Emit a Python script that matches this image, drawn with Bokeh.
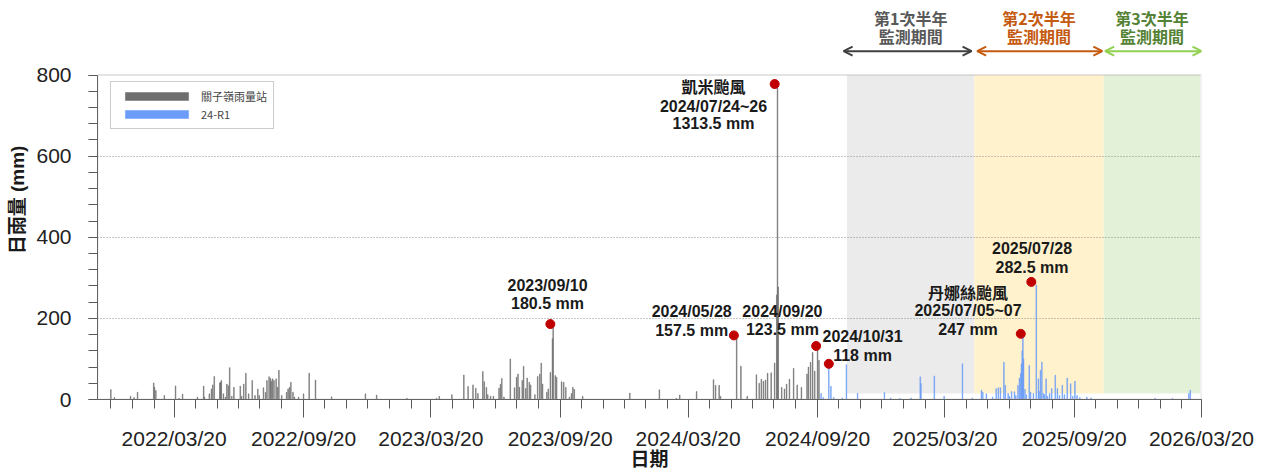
import datetime as dt
from bokeh.plotting import figure
from bokeh.models import (Range1d, FixedTicker, DatetimeTickFormatter, SingleIntervalTicker,
                          BoxAnnotation, Label, Arrow, OpenHead, Legend, LegendItem, ColumnDataSource)
from bokeh.embed import file_html
from bokeh.resources import INLINE

# ---------------- data ----------------
station_name = "關子嶺雨量站"
station_dates = [
    "2021-12-20", "2021-12-25", "2022-01-17", "2022-01-22", "2022-01-27", "2022-02-19", "2022-02-20", "2022-02-22",
    "2022-03-06", "2022-03-22", "2022-03-27", "2022-04-01", "2022-04-22", "2022-05-01", "2022-05-02", "2022-05-09",
    "2022-05-12", "2022-05-14", "2022-05-16", "2022-05-24", "2022-05-25", "2022-05-26", "2022-05-29", "2022-06-01",
    "2022-06-03", "2022-06-05", "2022-06-07", "2022-06-10", "2022-06-13", "2022-06-22", "2022-06-24", "2022-06-27",
    "2022-06-30", "2022-07-04", "2022-07-09", "2022-07-13", "2022-07-17", "2022-07-19", "2022-07-25", "2022-07-28",
    "2022-07-30", "2022-08-02", "2022-08-04", "2022-08-05", "2022-08-07", "2022-08-09", "2022-08-12", "2022-08-14",
    "2022-08-16", "2022-08-20", "2022-08-27", "2022-08-29", "2022-08-31", "2022-09-02", "2022-09-05", "2022-09-07",
    "2022-09-13", "2022-09-20", "2022-09-28", "2022-10-07", "2022-10-30", "2022-12-17", "2023-01-02", "2023-02-14",
    "2023-03-28", "2023-04-01", "2023-04-19", "2023-05-06", "2023-05-12", "2023-05-19", "2023-05-23", "2023-05-26",
    "2023-06-02", "2023-06-04", "2023-06-07", "2023-06-09", "2023-06-13", "2023-06-17", "2023-06-25", "2023-06-27",
    "2023-06-29", "2023-07-02", "2023-07-11", "2023-07-17", "2023-07-20", "2023-07-22", "2023-07-24", "2023-07-28",
    "2023-07-30", "2023-08-02", "2023-08-04", "2023-08-07", "2023-08-09", "2023-08-15", "2023-08-19", "2023-08-22",
    "2023-08-24", "2023-08-26", "2023-09-01", "2023-09-03", "2023-09-06", "2023-09-09", "2023-09-10", "2023-09-13",
    "2023-09-15", "2023-09-22", "2023-09-25", "2023-09-28", "2023-10-03", "2023-10-06", "2023-10-08", "2023-10-10",
    "2023-10-22", "2023-12-28", "2024-02-08", "2024-03-03", "2024-03-08", "2024-04-01", "2024-04-25", "2024-04-28",
    "2024-05-03", "2024-05-05", "2024-05-28", "2024-06-03", "2024-06-12", "2024-06-25", "2024-06-29", "2024-07-02",
    "2024-07-05", "2024-07-08", "2024-07-11", "2024-07-16", "2024-07-21", "2024-07-24", "2024-07-25", "2024-07-26",
    "2024-07-31", "2024-08-04", "2024-08-07", "2024-08-11", "2024-08-17", "2024-08-22", "2024-08-28", "2024-09-05",
    "2024-09-07", "2024-09-10", "2024-09-13", "2024-09-16", "2024-09-20", "2024-09-22",
]
station_mm = [
    24.5, 5, 8, 5, 18, 41, 30, 22,
    10, 33.5, 3, 13, 6, 33, 6, 14,
    26, 36, 57, 41, 42.5, 47, 14, 6,
    38, 34, 78.5, 8, 30, 33, 8, 38,
    65, 14, 47, 10, 26, 10, 29, 18,
    47, 56, 52, 45, 51, 47, 51, 30,
    72, 10, 18, 26, 30, 42.5, 18, 6,
    6, 14, 65, 48, 6.5, 14, 11, 3,
    3, 8, 12, 60.5, 32, 36, 28, 15,
    69, 44, 30, 12, 8, 8, 28, 37.5,
    52, 6, 100, 29, 55, 63, 30, 47,
    82, 27, 53, 42.5, 36, 12, 57, 63,
    90, 38, 18, 26, 67, 150, 180.5, 59,
    55, 44, 42.5, 30, 6, 15, 30, 25,
    8, 16, 24, 3, 11, 20, 49, 35,
    35, 8, 157.5, 82, 8, 61, 40, 50,
    45, 48, 65, 66, 90, 258, 778, 277.5,
    30, 26, 38, 50, 77, 36, 30, 63,
    80, 92, 116, 70, 123.5, 97,
]

r1_name = "24-R1"
r1_dates = [
    "2024-09-25", "2024-09-28", "2024-10-06", "2024-10-09", "2024-10-13", "2024-10-25", "2024-10-31", "2024-11-16",
    "2024-12-24", "2025-01-02", "2025-01-15", "2025-01-31", "2025-02-13", "2025-02-14", "2025-03-05", "2025-03-19",
    "2025-04-14", "2025-04-28", "2025-05-11", "2025-05-13", "2025-05-18", "2025-05-27", "2025-06-01", "2025-06-04",
    "2025-06-07", "2025-06-12", "2025-06-14", "2025-06-18", "2025-06-20", "2025-06-23", "2025-06-27", "2025-06-29",
    "2025-07-02", "2025-07-04", "2025-07-06", "2025-07-07", "2025-07-08", "2025-07-09", "2025-07-10", "2025-07-12",
    "2025-07-14", "2025-07-18", "2025-07-20", "2025-07-24", "2025-07-28", "2025-07-31", "2025-08-01", "2025-08-03",
    "2025-08-05", "2025-08-07", "2025-08-09", "2025-08-11", "2025-08-13", "2025-08-16", "2025-08-19", "2025-08-24",
    "2025-08-27", "2025-08-30", "2025-09-03", "2025-09-06", "2025-09-10", "2025-09-15", "2025-09-18", "2025-09-21",
    "2025-09-24", "2025-09-28", "2025-10-08", "2025-10-14", "2026-01-13", "2026-02-07", "2026-03-02", "2026-03-04",
]
r1_mm = [
    15, 5, 80, 33, 5, 4, 86, 15,
    17, 4, 3, 4, 56, 39, 58, 8,
    88, 4, 23, 18, 14, 6, 27, 29,
    29, 92, 35, 15, 8, 20, 19, 10,
    35, 53, 64, 88, 120, 155, 100, 25,
    12, 84, 18, 15, 282.5, 51, 20, 72,
    92, 15, 12, 51, 8, 15, 27, 60,
    27, 10, 35, 12, 53, 39, 8, 45,
    10, 5, 6, 4, 3, 3, 15, 23,
]

# highlighted events (red markers)
event_dates = ["2023-09-06", "2024-05-24", "2024-07-21", "2024-09-18", "2024-10-06", "2025-07-06", "2025-07-21"]
event_mm = [186, 158, 778, 132, 88, 162, 290]

# monitoring periods
period_names = [["第1次半年", "監測期間"], ["第2次半年", "監測期間"], ["第3次半年", "監測期間"]]
period_start = ["2024-11-01", "2025-05-01", "2025-11-01"]
period_end = ["2025-05-01", "2025-11-01", "2026-03-18"]

tick_labels = ["2022/03/20", "2022/09/20", "2023/03/20", "2023/09/20", "2024/03/20",
               "2024/09/20", "2025/03/20", "2025/09/20", "2026/03/20"]
grid_levels = [200, 400, 600]

# ---------------- helpers ----------------
EPOCH = dt.datetime(1970, 1, 1)


def ms(s):
    d = dt.datetime.strptime(s.replace("/", "-"), "%Y-%m-%d")
    return (d - EPOCH).total_seconds() * 1000.0


DAY = 86400000.0
X_START = "2021-12-01"
X_END = "2026-03-20"
Y_MAX = 800
Y_TOP = 984  # headroom above the 800 frame line for the period headers

p = figure(width=1263, height=472, output_backend="svg", toolbar_location=None,
           x_axis_type="datetime",
           x_range=Range1d(ms(X_START), ms(X_END)), y_range=Range1d(0, Y_TOP),
           min_border_left=97, min_border_right=62, min_border_top=0, min_border_bottom=60)
p.background_fill_color = "white"
p.border_fill_color = "white"
p.outline_line_color = None

# monitoring bands
band_colors = ["#EBEBEB", "#FFF2CC", "#E4F1D9"]
for s, e, c in zip(period_start, period_end, band_colors):
    p.add_layout(BoxAnnotation(left=ms(s), right=ms(e), bottom=15, top=Y_MAX, fill_color=c,
                               fill_alpha=1.0, line_color=None, level="underlay"))

p.ygrid.level = "glyph"

# bars
src_station = ColumnDataSource(dict(x=[ms(d) for d in station_dates], top=station_mm))
src_r1 = ColumnDataSource(dict(x=[ms(d) for d in r1_dates], top=r1_mm))
r_station = p.vbar(x="x", top="top", bottom=0, width=DAY, source=src_station,
                   fill_color="#6E6E6E", line_color="#6E6E6E", line_width=0.6, line_alpha=0.8)
r_r1 = p.vbar(x="x", top="top", bottom=0, width=DAY, source=src_r1,
              fill_color="#6A9CF8", line_color="#6A9CF8", line_width=0.6, line_alpha=0.8)

# plot-area frame (0..800)
p.add_layout(BoxAnnotation(left=ms(X_START), right=ms(X_END), bottom=0, top=Y_MAX,
                           fill_alpha=0, line_color="#A6A6A6", line_width=2, level="overlay"))

# event markers
p.scatter(x=[ms(d) for d in event_dates], y=event_mm, size=9, marker="circle",
          fill_color="#C00000", line_color="#C00000")

# axes
major = [ms(t) for t in tick_labels]
minor = []
y0, m0 = 2021, 12
while True:
    v = ms(f"{y0:04d}-{m0:02d}-20")
    if v > ms(X_END):
        break
    minor.append(v)
    m0 += 1
    if m0 > 12:
        m0, y0 = 1, y0 + 1

xa = p.xaxis[0]
xa.ticker = FixedTicker(ticks=major, minor_ticks=minor)
fmt = "%Y/%m/%d"
xa.formatter = DatetimeTickFormatter(days=fmt, months=fmt, years=fmt, hours=fmt, hourmin=fmt,
                                     minutes=fmt, minsec=fmt, seconds=fmt, milliseconds=fmt,
                                     microseconds=fmt, context=None)
xa.axis_label = "日期"
xa.axis_label_text_font = "Liberation Sans, Noto Sans CJK TC"
xa.axis_label_text_font_style = "bold"
xa.axis_label_text_font_size = "19px"
xa.axis_label_text_color = "#1A1A1A"
xa.axis_label_standoff = -4
xa.major_label_text_font = "Liberation Sans"
xa.major_label_text_font_size = "21px"
xa.major_label_text_color = "#222222"
xa.major_label_standoff = 9
xa.major_tick_out = 18
xa.major_tick_in = 0
xa.minor_tick_out = 9
xa.minor_tick_in = 0
xa.axis_line_color = "#595959"
xa.major_tick_line_color = "#595959"
xa.minor_tick_line_color = "#595959"

ya = p.yaxis[0]
ya.ticker = SingleIntervalTicker(interval=200, num_minor_ticks=5)
ya.bounds = (0, Y_MAX)
ya.axis_label = "日雨量 (mm)"
ya.axis_label_text_font = "Liberation Sans, Noto Sans CJK TC"
ya.axis_label_text_font_style = "bold"
ya.axis_label_text_font_size = "19px"
ya.axis_label_text_color = "#1A1A1A"
ya.axis_label_standoff = 5
ya.major_label_text_font = "Liberation Sans"
ya.major_label_text_font_size = "21px"
ya.major_label_text_color = "#222222"
ya.major_label_standoff = 17
ya.major_tick_out = 9
ya.major_tick_in = 0
ya.minor_tick_out = 9
ya.minor_tick_in = 0
ya.axis_line_color = "#595959"
ya.major_tick_line_color = "#595959"
ya.minor_tick_line_color = "#595959"

p.xgrid.grid_line_color = None
p.ygrid.ticker = FixedTicker(ticks=grid_levels)
p.ygrid.grid_line_color = "#8C8C8C"
p.ygrid.grid_line_dash = "1 2"
p.ygrid.grid_line_width = 1

# legend
legend = Legend(items=[LegendItem(label=station_name, renderers=[r_station]),
                       LegendItem(label=r1_name, renderers=[r_r1])],
                location=(13, 270), margin=0, padding=6, spacing=2,
                glyph_width=79, glyph_height=10, label_standoff=5,
                label_text_font="Noto Sans CJK TC", label_text_font_size="11px",
                label_height=10, border_line_color="#9A9A9A", border_line_width=1,
                background_fill_alpha=1.0)
p.add_layout(legend)

# event annotation texts: (text, date, y_mm, size, font)
NUM = "Liberation Sans"
CJK = "Noto Sans CJK TC"
annotations = [
    ("凱米颱風", "2024-04-25", 773, "16px", CJK),
    ("2024/07/24~26", "2024-04-25", 722, "16px", NUM),
    ("1313.5 mm", "2024-04-25", 680, "16px", NUM),
    ("2023/09/10", "2023-09-02", 282, "16px", NUM),
    ("180.5 mm", "2023-09-02", 236, "16px", NUM),
    ("2024/05/28", "2024-03-25", 216, "16px", NUM),
    ("157.5 mm", "2024-03-25", 169, "16px", NUM),
    ("2024/09/20", "2024-08-01", 218, "16px", NUM),
    ("123.5 mm", "2024-08-01", 172, "16px", NUM),
    ("2024/10/31", "2024-11-23", 155, "16px", NUM),
    ("118 mm", "2024-11-23", 109, "16px", NUM),
    ("丹娜絲颱風", "2025-04-22", 264, "16px", CJK),
    ("2025/07/05~07", "2025-04-22", 219, "16px", NUM),
    ("247 mm", "2025-04-22", 172, "16px", NUM),
    ("2025/07/28", "2025-07-22", 373, "16px", NUM),
    ("282.5 mm", "2025-07-22", 326, "16px", NUM),
]
for t, d, y, sz, f in annotations:
    p.add_layout(Label(x=ms(d), y=y, text=t, text_font=f, text_font_size=sz, text_font_style="bold",
                       text_color="#1A1A1A", text_align="center", text_baseline="middle"))

# period headers above the 800 line
text_colors = ["#595959", "#C55A11", "#548235"]
arrow_colors = ["#404040", "#C55A11", "#92D050"]
arrow_start = ["2024-10-27", "2025-05-05", "2025-11-03"]
arrow_end = ["2025-04-27", "2025-10-30", "2026-03-20"]
HEAD1_Y, HEAD2_Y, ARROW_Y = 940, 896, 859
for names, s, e, tc, ac, a0, a1 in zip(period_names, period_start, period_end, text_colors,
                                        arrow_colors, arrow_start, arrow_end):
    mid = (ms(s) + ms(e)) / 2
    p.add_layout(Label(x=mid, y=HEAD1_Y, text=names[0], text_font=CJK, text_font_size="16px",
                       text_font_style="bold", text_color=tc, text_align="center", text_baseline="middle"))
    p.add_layout(Label(x=mid, y=HEAD2_Y, text=names[1], text_font=CJK, text_font_size="16px",
                       text_font_style="bold", text_color=tc, text_align="center", text_baseline="middle"))
    p.add_layout(Arrow(x_start=ms(a0), y_start=ARROW_Y, x_end=ms(a1), y_end=ARROW_Y,
                       line_color=ac, line_width=2,
                       start=OpenHead(size=9, line_color=ac, line_width=2),
                       end=OpenHead(size=9, line_color=ac, line_width=2)))

open("out.html", "w").write(file_html(p, INLINE))
